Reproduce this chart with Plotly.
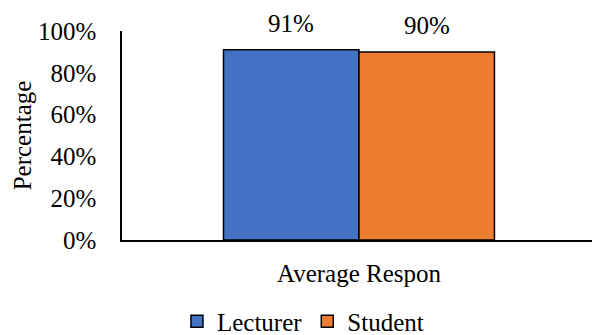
import plotly.graph_objects as go

# Survey summary: share of positive responses by group
category = "Average Respon"
groups = ["Lecturer", "Student"]
values = [0.91, 0.90]
colors = ["#4472C4", "#ED7D31"]
y_ticks = [0, 0.2, 0.4, 0.6, 0.8, 1.0]
y_title = "Percentage"

FONT = "Liberation Serif"
FS = 25
BAR_W = 1.0

fig = go.Figure()
offsets = [-BAR_W, 0.0]
for name, val, col, off in zip(groups, values, colors, offsets):
    fig.add_trace(go.Bar(
        x=[0], y=[val], name=name,
        offset=off, width=BAR_W,
        marker=dict(color=col, line=dict(color="black", width=1.5)),
    ))
    fig.add_annotation(
        x=off + BAR_W / 2, y=val, text=f"{val:.0%}",
        showarrow=False, yanchor="bottom", yshift=11,
        font=dict(family=FONT, size=FS, color="black"),
    )

# vertical axis title, placed in the left margin
fig.add_annotation(
    xref="paper", yref="paper", x=-0.211, y=0.5,
    text=y_title, textangle=-90, showarrow=False,
    xanchor="center", yanchor="middle",
    font=dict(family=FONT, size=FS, color="black"),
)

fig.update_layout(
    width=592, height=335,
    margin=dict(l=122, r=0, t=31, b=95, autoexpand=False),
    paper_bgcolor="white", plot_bgcolor="white",
    font=dict(family=FONT, size=FS, color="black"),
    showlegend=True,
    legend=dict(
        orientation="h", xref="paper", yref="paper",
        x=0.385, xanchor="center", y=-0.39, yanchor="middle",
        font=dict(family=FONT, size=FS, color="black"),
        itemwidth=30, tracegroupgap=0,
    ),
)
fig.update_xaxes(
    range=[-1.749, 1.72], tickvals=[0], ticktext=[category],
    showline=True, linecolor="black", linewidth=1.5,
    showgrid=False, zeroline=False, ticks="", ticklabelstandoff=10,
    automargin=False, fixedrange=True,
)
fig.update_yaxes(
    range=[0, 1], tickvals=y_ticks, tickformat=".0%",
    showline=True, linecolor="black", linewidth=1.5,
    showgrid=False, zeroline=False, ticks="", ticklabelstandoff=19,
    automargin=False, fixedrange=True,
)

fig.write_html("out.html")
